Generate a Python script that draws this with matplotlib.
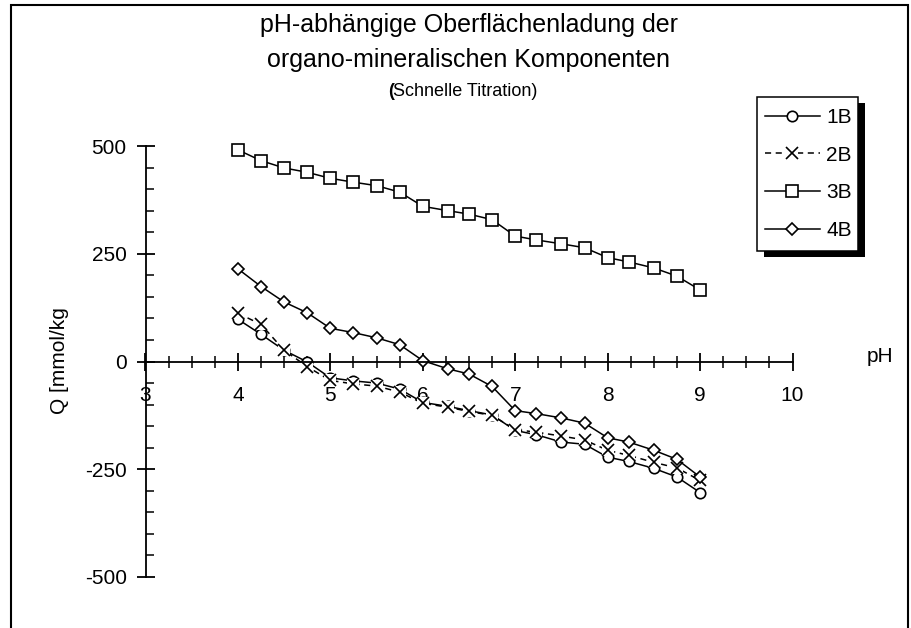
import matplotlib.pyplot as plt
from matplotlib.patches import Rectangle
from matplotlib.ticker import MultipleLocator

plt.rcParams['font.family'] = ['Liberation Sans', 'DejaVu Sans']
plt.rcParams['axes.unicode_minus'] = False

# ---------------------------------------------------------------
# values

ph = [4.0, 4.25, 4.5, 4.75, 5.0, 5.25, 5.5, 5.75, 6.0, 6.27, 6.5,
      6.75, 7.0, 7.23, 7.5, 7.75, 8.0, 8.23, 8.5, 8.75, 9.0]

q_1b = [98, 63, 26, -1, -38, -45, -50, -64, -95, -104, -114,
        -124, -160, -170, -187, -192, -222, -232, -248, -268, -304]
q_2b = [112, 86, 26, -12, -44, -52, -57, -71, -97, -106, -116,
        -125, -158, -164, -173, -182, -206, -218, -234, -247, -276]
q_3b = [491, 466, 449, 439, 425, 416, 408, 393, 360, 350, 342,
        329, 291, 282, 273, 264, 241, 231, 217, 198, 166]
q_4b = [215, 174, 138, 113, 77, 67, 55, 39, 2, -17, -29,
        -58, -114, -121, -131, -143, -177, -187, -206, -227, -268]

labels = ['1B', '2B', '3B', '4B']

W, H = 912, 628


def fx(px):
    return px / W


def fy(py):
    return 1 - py / H


fig = plt.figure(figsize=(9.12, 6.28), dpi=100)

# outer chart frame
fig.patches.append(Rectangle((fx(11), fy(640)), fx(908) - fx(11), fy(5) - fy(640),
                             transform=fig.transFigure, fill=False,
                             edgecolor='black', lw=1.5))

ax = fig.add_axes([fx(145.5), fy(577), fx(792.5) - fx(145.5), fy(146) - fy(577)])
ax.set_facecolor('none')

common = dict(color='black', lw=1.1, mec='black', mew=1.2, clip_on=False)

h1, = ax.plot(ph, q_1b, marker='o', ms=7.5, mfc='white', **common)
# 2B: excel style X marker on a white square background
h2a, = ax.plot(ph, q_2b, ls=(0, (4, 3)), marker='s', ms=9, mfc='white',
               color='black', lw=1.1, mec='white', mew=0, clip_on=False)
h2b, = ax.plot(ph, q_2b, ls='none', marker='x', ms=9, **common)
h3, = ax.plot(ph, q_3b, marker='s', ms=9, mfc='white', **common)
h4, = ax.plot(ph, q_4b, marker='D', ms=6.5, mfc='white', **common)

ax.set_xlim(3, 10)
ax.set_ylim(-500, 500)
ax.spines['top'].set_visible(False)
ax.spines['right'].set_visible(False)
ax.spines['bottom'].set_position(('data', 0))
ax.spines['left'].set_linewidth(1.3)
ax.spines['bottom'].set_linewidth(1.3)

ax.xaxis.set_major_locator(MultipleLocator(1))
ax.xaxis.set_minor_locator(MultipleLocator(0.25))
ax.yaxis.set_major_locator(MultipleLocator(250))
ax.yaxis.set_minor_locator(MultipleLocator(50))
ax.tick_params(axis='both', which='major', direction='inout', length=13,
               width=1.3, labelsize=15)
ax.tick_params(axis='x', which='major', pad=11)
ax.tick_params(axis='y', which='major', pad=7)
ax.tick_params(axis='x', which='minor', direction='inout', length=8, width=1.1)
ax.tick_params(axis='y', which='minor', direction='in', length=6, width=1.1)

# titles
fig.text(fx(469), fy(32), 'pH-abhängige Oberflächenladung der', ha='center',
         va='baseline', fontsize=18)
fig.text(fx(469), fy(66.5), 'organo-mineralischen Komponenten', ha='center',
         va='baseline', fontsize=18)
t3 = fig.text(fx(388), fy(96.5), '(', ha='left', va='baseline', fontsize=13,
              fontweight='bold')
fig.text(fx(393), fy(96.5), 'Schnelle Titration)', ha='left', va='baseline',
         fontsize=13)

fig.text(fx(880), fy(356), 'pH', ha='center', va='center', fontsize=15)
fig.text(fx(60), fy(361), 'Q [mmol/kg', ha='center', va='center',
         fontsize=15, rotation=90)

# legend box with solid shadow
bx0, by0, bx1, by1 = 757.5, 97, 858, 251
fig.patches.append(Rectangle((fx(bx0 + 7), fy(by1 + 6)), fx(bx1) - fx(bx0),
                             fy(by0) - fy(by1), transform=fig.transFigure,
                             facecolor='black', edgecolor='black', lw=0))
fig.patches.append(Rectangle((fx(bx0), fy(by1)), fx(bx1) - fx(bx0),
                             fy(by0) - fy(by1), transform=fig.transFigure,
                             facecolor='white', edgecolor='black', lw=1.1))
fig.legend(handles=[h1, (h2a, h2b), h3, h4], labels=labels, loc='upper left',
           bbox_to_anchor=(fx(765), fy(108)), frameon=False,
           fontsize=15, handlelength=2.64, handletextpad=0.29,
           labelspacing=0.9, borderpad=0, borderaxespad=0)

fig.savefig('out.png', dpi=100)
